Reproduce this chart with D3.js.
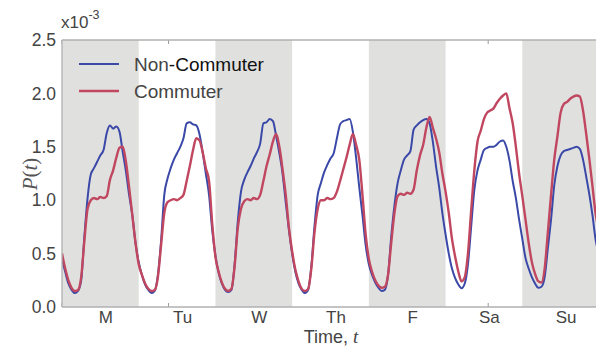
<!DOCTYPE html>
<html><head><meta charset="utf-8">
<script src="https://cdn.jsdelivr.net/npm/d3@7"></script>
<style>body{margin:0;background:#fff;overflow:hidden}</style>
</head><body><svg id="c" width="596" height="347"></svg>
<script>
// ---- data (P(t) in units of 1e-3, hourly from Monday 00:00) ----
const days = ["M","Tu","W","Th","F","Sa","Su"];
const shadedDays = [0,2,4,6];
const yTicks = [0.0,0.5,1.0,1.5,2.0,2.5];
const xTickHours = [0,100/3,200/3,100,400/3,500/3];
const seriesNames = ["Non-Commuter","Commuter"];
const nonCommuter = [
  0.45,0.33,0.22,0.16,0.13,0.15,0.25,0.66,1.02,1.24,1.30,1.36,1.42,1.47,1.63,1.70,1.67,1.69,1.64,1.45,1.27,1.05,0.86,0.60,
  0.42,0.30,0.21,0.16,0.13,0.15,0.30,0.62,1.05,1.20,1.30,1.38,1.44,1.50,1.58,1.72,1.73,1.71,1.70,1.62,1.45,1.25,1.05,0.72,
  0.48,0.32,0.22,0.16,0.14,0.16,0.40,0.80,1.08,1.19,1.26,1.32,1.39,1.45,1.53,1.72,1.73,1.76,1.74,1.60,1.44,1.25,0.98,0.72,
  0.50,0.33,0.22,0.16,0.13,0.16,0.38,0.76,1.05,1.16,1.26,1.33,1.39,1.44,1.58,1.71,1.74,1.75,1.76,1.64,1.40,1.12,0.86,0.58,
  0.40,0.30,0.23,0.18,0.15,0.16,0.30,0.66,0.95,1.16,1.28,1.38,1.42,1.46,1.66,1.70,1.73,1.75,1.76,1.72,1.55,1.32,1.12,0.88,
  0.68,0.50,0.36,0.27,0.21,0.175,0.22,0.40,0.75,1.10,1.28,1.38,1.47,1.49,1.50,1.50,1.52,1.55,1.56,1.50,1.37,1.18,1.02,0.82,
  0.64,0.46,0.36,0.28,0.22,0.18,0.19,0.28,0.55,0.82,1.14,1.32,1.42,1.46,1.47,1.48,1.49,1.50,1.48,1.38,1.22,1.05,0.85,0.62,0.50
];
const commuter = [
  0.50,0.36,0.25,0.18,0.15,0.16,0.28,0.62,0.92,1.00,1.02,1.01,1.03,1.02,1.04,1.19,1.28,1.40,1.49,1.50,1.36,1.12,0.86,0.60,
  0.40,0.30,0.22,0.17,0.15,0.16,0.28,0.58,0.88,0.98,1.00,1.01,1.00,1.02,1.05,1.18,1.32,1.47,1.58,1.56,1.45,1.30,1.18,0.78,
  0.47,0.33,0.23,0.17,0.15,0.17,0.38,0.74,0.92,0.99,1.01,1.00,1.02,1.01,1.05,1.18,1.32,1.43,1.55,1.62,1.50,1.29,1.05,0.74,
  0.52,0.35,0.24,0.17,0.15,0.17,0.36,0.70,0.92,1.00,1.00,1.02,1.01,1.02,1.08,1.18,1.29,1.40,1.52,1.62,1.52,1.38,1.05,0.68,
  0.45,0.33,0.25,0.20,0.18,0.19,0.30,0.60,0.88,1.04,1.06,1.05,1.07,1.06,1.10,1.28,1.42,1.52,1.68,1.78,1.68,1.58,1.45,1.25,
  1.08,0.88,0.64,0.47,0.33,0.24,0.28,0.50,0.90,1.28,1.55,1.65,1.76,1.82,1.84,1.86,1.91,1.95,1.98,2.00,1.86,1.72,1.50,1.25,
  1.04,0.82,0.60,0.42,0.31,0.24,0.23,0.36,0.70,1.05,1.38,1.60,1.82,1.90,1.92,1.95,1.97,1.98,1.97,1.84,1.62,1.38,1.12,0.86,0.72
];
const colors = ["#3a48a8","#c0475f"];

// ---- layout ----
const L = 62, R = 599, T = 40, B = 307;
const x = d3.scaleLinear().domain([0,168]).range([L,R]);
const y = d3.scaleLinear().domain([0,2.5]).range([B,T]);
const svg = d3.select("#c");
const font = "'Liberation Sans', Arial, sans-serif";
const txt = "#444";

svg.append("defs").append("clipPath").attr("id","clip")
  .append("rect").attr("x",L).attr("y",T).attr("width",R-L).attr("height",B-T);

// ticks (inward) drawn under bands
const tk = svg.append("g");
xTickHours.forEach(h=>{
  tk.append("line").attr("x1",x(h)).attr("x2",x(h)).attr("y1",B).attr("y2",B-4).attr("stroke","#999").attr("stroke-width",1);
  tk.append("line").attr("x1",x(h)).attr("x2",x(h)).attr("y1",T).attr("y2",T+4).attr("stroke","#999").attr("stroke-width",1);
});

// shaded day bands
const g = svg.append("g").attr("clip-path","url(#clip)");
g.selectAll("rect.band").data(shadedDays).join("rect").attr("class","band")
  .attr("x",d=>x(d*24)).attr("width",d=>x(d*24+24)-x(d*24))
  .attr("y",T).attr("height",B-T).attr("fill","#e0e0df");

// lines
const line = d3.line().x((d,i)=>x(i)).y(d=>y(d)).curve(d3.curveMonotoneX);
[nonCommuter, commuter].forEach((s,k)=>{
  g.append("path").datum(s).attr("d",line).attr("fill","none")
    .attr("stroke",colors[k]).attr("stroke-width",k?2.4:2).attr("stroke-linejoin","round");
});

// spines
[[L,T,L,B],[L,B,R,B],[L,T,R,T]].forEach(c=>{
  svg.append("line").attr("x1",c[0]).attr("y1",c[1]).attr("x2",c[2]).attr("y2",c[3])
    .attr("stroke","#b0b0b0").attr("stroke-width",1.3);
});

// y tick labels
const yAxis = d3.axisLeft(y).tickValues(yTicks).tickFormat(d3.format(".1f")).tickSize(0).tickPadding(6);
const ya = svg.append("g").attr("transform",`translate(${L},0)`).call(yAxis);
ya.select(".domain").remove();
ya.selectAll("text").attr("font-family",font).attr("font-size",17.5).attr("fill",txt);

// day labels
svg.selectAll("text.day").data(days).join("text").attr("class","day")
  .attr("x",(d,i)=>x(i*24+13.7)).attr("y",322.5).attr("text-anchor","middle")
  .attr("font-family",font).attr("font-size",17).attr("fill",txt).text(d=>d);

// x10^-3
const ex = svg.append("text").attr("x",61).attr("y",27.5).attr("font-family",font).attr("font-size",17).attr("fill",txt);
ex.append("tspan").text("x10");
ex.append("tspan").attr("dy",-9).attr("font-size",12.5).text("-3");

// axis titles
const xt = svg.append("text").attr("x",331).attr("y",342.5).attr("text-anchor","middle")
  .attr("font-family",font).attr("font-size",18).attr("fill",txt);
xt.append("tspan").text("Time, ");
xt.append("tspan").attr("font-family","'Liberation Serif', 'DejaVu Serif', serif").attr("font-style","italic").attr("font-size",19).text("t");

const yt = svg.append("text").attr("transform","translate(37,174) rotate(-90)").attr("text-anchor","middle")
  .attr("font-family","'Liberation Serif', 'DejaVu Serif', serif").attr("font-size",21).attr("fill","#555");
yt.append("tspan").attr("font-style","italic").text("P");
yt.append("tspan").text("(");
yt.append("tspan").attr("font-style","italic").text("t");
yt.append("tspan").text(")");

// legend
const legY = [64,91];
seriesNames.forEach((n,k)=>{
  svg.append("line").attr("x1",79).attr("x2",119).attr("y1",legY[k]).attr("y2",legY[k])
    .attr("stroke",colors[k]).attr("stroke-width",k?2.4:2);
  const t = svg.append("text").attr("x",134).attr("y",legY[k]+6.5)
    .attr("font-family",font).attr("font-size",19).attr("fill",txt);
  if(k===0){
    t.append("tspan").text("Non");
    t.append("tspan").attr("fill","#111").text("-Commuter");
  } else t.text(n);
});
</script></body></html>
